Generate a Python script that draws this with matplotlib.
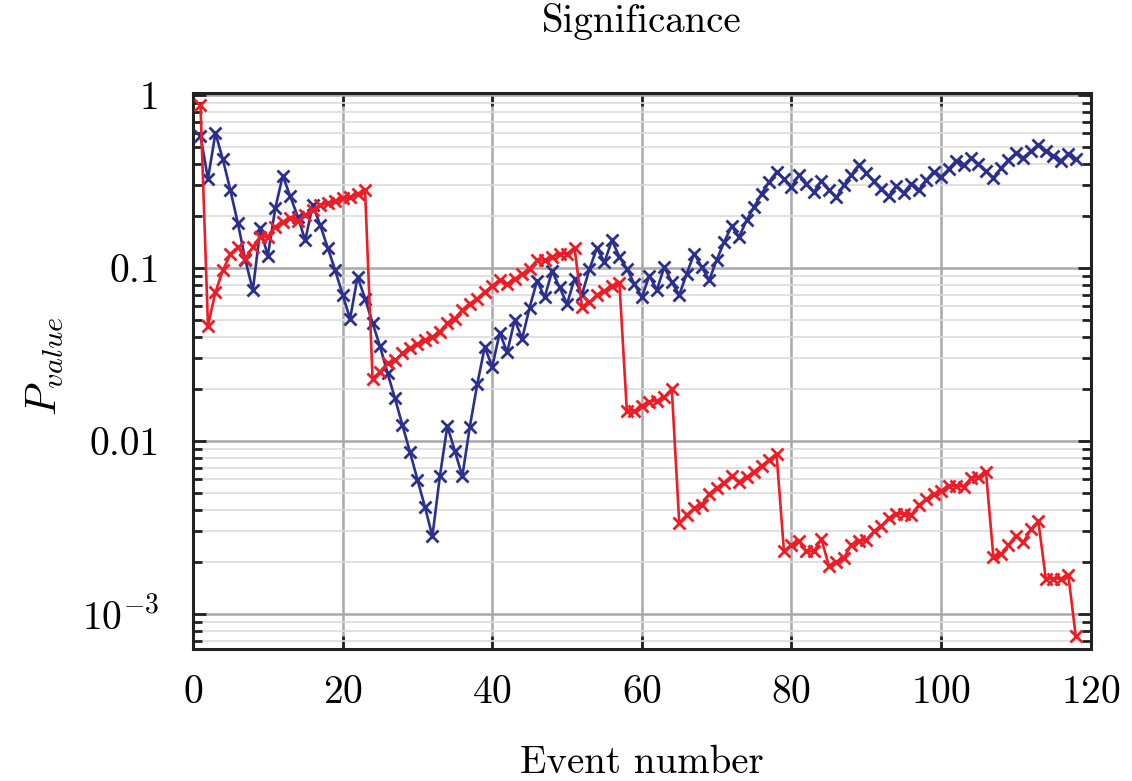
"""
Significance vs event number (log p-value)
"""

import numpy as np
import matplotlib
matplotlib.use('Agg')
import matplotlib.pyplot as plt
from matplotlib.ticker import LogLocator, NullFormatter, FixedLocator, FixedFormatter

plt.rcParams['font.family'] = 'cmr10'
plt.rcParams['mathtext.fontset'] = 'cm'
plt.rcParams['axes.formatter.use_mathtext'] = True

events = np.arange(1, 119)

p_blue = [
    0.578, 0.327, 0.60, 0.423, 0.28, 0.181, 0.111, 0.0742, 0.169, 0.117,
    0.221, 0.341, 0.259, 0.198, 0.144, 0.231, 0.177, 0.131, 0.097, 0.070,
    0.0508, 0.0887, 0.0665, 0.048, 0.0352, 0.0247, 0.0176, 0.0123, 0.00864, 0.00598,
    0.00416, 0.00281, 0.00625, 0.01217, 0.00875, 0.00625, 0.01205, 0.0213, 0.0349, 0.0268,
    0.0422, 0.0325, 0.050, 0.039, 0.059, 0.0844, 0.0675, 0.0957, 0.0772, 0.0618,
    0.0863, 0.070, 0.0987, 0.13, 0.108, 0.144, 0.116, 0.0987, 0.0807, 0.0675,
    0.0902, 0.0745, 0.101, 0.0826, 0.0697, 0.0925, 0.121, 0.101, 0.0849, 0.111,
    0.141, 0.174, 0.151, 0.188, 0.225, 0.268, 0.313, 0.358, 0.327, 0.293,
    0.343, 0.307, 0.274, 0.318, 0.283, 0.255, 0.300, 0.343, 0.394, 0.352,
    0.316, 0.287, 0.259, 0.297, 0.271, 0.306, 0.28, 0.32, 0.36, 0.335,
    0.371, 0.416, 0.392, 0.43, 0.397, 0.363, 0.332, 0.376, 0.419, 0.458,
    0.434, 0.471, 0.515, 0.475, 0.444, 0.416, 0.455, 0.425,
]

p_red = [
    0.87, 0.0464, 0.0725, 0.097, 0.12, 0.132, 0.113, 0.132, 0.151, 0.151,
    0.173, 0.185, 0.194, 0.186, 0.202, 0.216, 0.231, 0.236, 0.242, 0.253,
    0.255, 0.268, 0.283, 0.0229, 0.0251, 0.0282, 0.0292, 0.032, 0.0342, 0.0362,
    0.0382, 0.0399, 0.0427, 0.0477, 0.0509, 0.0569, 0.0622, 0.0665, 0.0727, 0.0783,
    0.0849, 0.0807, 0.0863, 0.0923, 0.0987, 0.1104, 0.1104, 0.1154, 0.1205, 0.1205,
    0.1305, 0.0596, 0.0631, 0.070, 0.0738, 0.0789, 0.0815, 0.0148, 0.0148, 0.0159,
    0.0168, 0.0171, 0.0179, 0.0200, 0.00335, 0.00374, 0.00409, 0.00428, 0.00494, 0.00533,
    0.00575, 0.00628, 0.00582, 0.00616, 0.00665, 0.00717, 0.00777, 0.00841, 0.0023, 0.00251,
    0.00263, 0.0023, 0.0023, 0.00271, 0.0019, 0.00199, 0.0021, 0.00251, 0.00263, 0.00268,
    0.00300, 0.00322, 0.00358, 0.0038, 0.0038, 0.00371, 0.00425, 0.0046, 0.00491, 0.00513,
    0.00551, 0.00551, 0.00544, 0.00608, 0.00622, 0.0066, 0.00212, 0.00221, 0.0025, 0.00284,
    0.0026, 0.00308, 0.00343, 0.0016, 0.0016, 0.0016, 0.00169, 0.000746,
]

x_ticks = [0, 20, 40, 60, 80, 100, 120]
y_ticks = [1e-3, 1e-2, 1e-1, 1]
y_tick_labels = [r'$10^{-3}$', '0.01', '0.1', '1']

W, H = 1132, 781
fig = plt.figure(figsize=(W / 100, H / 100), dpi=100)
ax = fig.add_axes([193 / W, 1 - 648.7 / H, (1090.7 - 193) / W, (648.7 - 93.3) / H])

ax.plot(events, p_blue, color='#2B2F8E', lw=1.9, marker='x', ms=8, mew=2.0, zorder=3)
ax.plot(events, p_red, color='#EE1C25', lw=1.9, marker='x', ms=8, mew=2.0, zorder=4)

ax.set_yscale('log')
ax.set_xlim(0, 120)
ax.set_ylim(6.3e-4, 1.02)

ax.xaxis.set_major_locator(FixedLocator(x_ticks))
ax.yaxis.set_major_locator(FixedLocator(y_ticks))
ax.yaxis.set_major_formatter(FixedFormatter(y_tick_labels))
ax.yaxis.set_minor_locator(LogLocator(base=10, subs=np.arange(2, 10), numticks=20))
ax.yaxis.set_minor_formatter(NullFormatter())

ax.grid(True, which='major', color='#a8a8a8', lw=1.8, zorder=0)
ax.grid(True, which='minor', axis='y', color='#dcdcdc', lw=1.2, zorder=0)
ax.set_axisbelow(True)

ax.tick_params(which='both', direction='in', top=True, right=True, color='#222222', labelsize=28.5)
ax.tick_params(which='major', length=9.5, width=2)
ax.tick_params(which='minor', length=6.5, width=2)
ax.tick_params(axis='x', pad=19)
ax.tick_params(axis='y', pad=24)
for s in ax.spines.values():
    s.set_linewidth(2.2)
    s.set_color('#222222')

fig.text(642 / W, 1 - 22 / H, 'Significance', ha='center', va='center', fontsize=28)
fig.text(642 / W, 1 - 763 / H, 'Event number', ha='center', va='center', fontsize=28)
fig.text(45 / W, 1 - 366 / H, r'$P_{value}$', ha='center', va='center', rotation=90, fontsize=31)

fig.savefig('out.png', dpi=100, facecolor='white')
